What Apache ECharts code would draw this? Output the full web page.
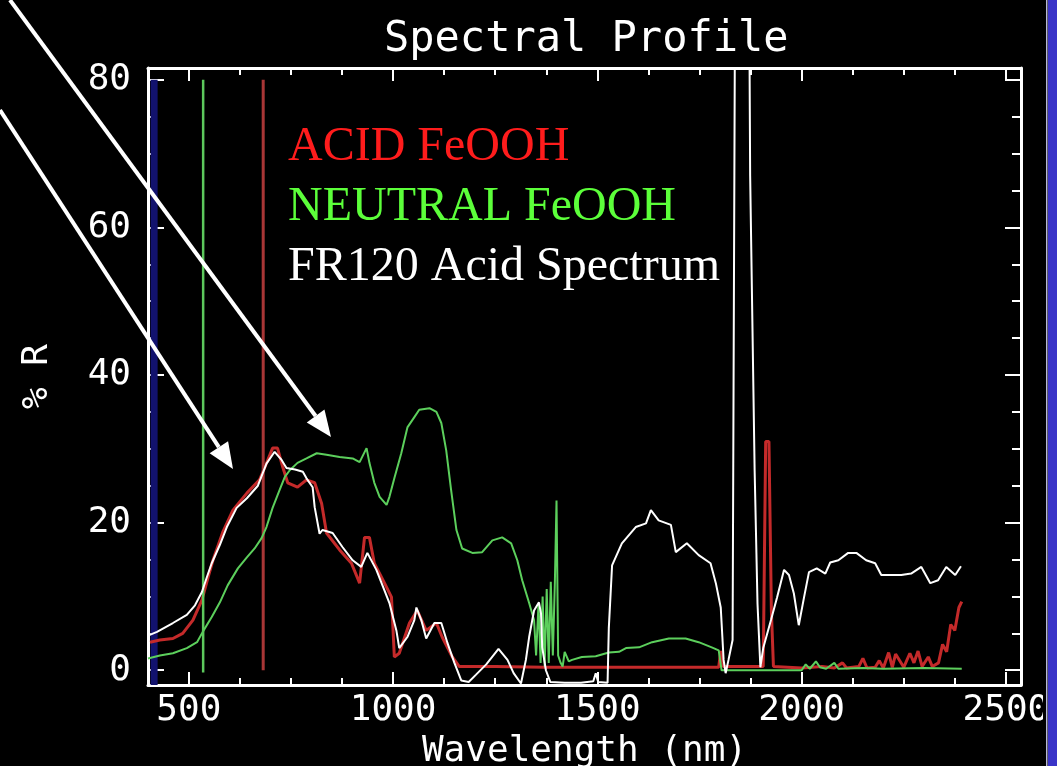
<!DOCTYPE html>
<html>
<head>
<meta charset="utf-8">
<title>Spectral Profile</title>
<script src="https://cdn.jsdelivr.net/npm/echarts@6/dist/echarts.min.js"></script>
<style>
  html, body { margin: 0; padding: 0; background: #000; }
  #chart { width: 1057px; height: 766px; }
</style>
</head>
<body>
<div id="chart"></div>
<script>
// axis ranges and ticks
const xMin = 400;
const xMax = 2537;
const yMin = -2;
const yMax = 81.6;
const xMajor = [500, 1000, 1500, 2000, 2500];
const xMinor = [625, 750, 875, 1125, 1250, 1375, 1625, 1750, 1875, 2125, 2250, 2375];
const yMajor = [0, 20, 40, 60, 80];
const yMinor = [5, 10, 15, 25, 30, 35, 45, 50, 55, 65, 70, 75];

// [wavelength nm, %R]
const acid = [
  [405, 3.8], [429, 4.1], [461, 4.3], [485, 5.0], [510, 6.8], [532, 9.5], [547, 12.6], [559, 14.9],
  [583, 18.7], [608, 21.7], [642, 24.0], [673, 25.8], [686, 27.5], [705, 30.1], [717, 30.1], [730, 27.5],
  [742, 25.4], [766, 24.8], [788, 25.8], [808, 25.4], [825, 22.6], [837, 18.6], [869, 16.3], [898, 14.5],
  [918, 11.8], [930, 18.0], [942, 18.0], [954, 14.5], [979, 11.8], [996, 9.9], [1003, 1.8], [1015, 2.3],
  [1040, 6.4], [1059, 8.1], [1081, 5.4], [1106, 6.4], [1120, 4.5], [1145, 1.8], [1162, 0.5], [1250, 0.5],
  [1370, 0.4], [1500, 0.4], [1650, 0.4], [1797, 0.4], [1802, 2.6], [1808, 0.5], [1906, 0.5], [1912, 31],
  [1920, 31], [1926, 8], [1931, 0.5], [2000, 0.3], [2050, 0.5], [2080, 0.3], [2100, 1.0], [2110, 0.3],
  [2140, 0.5], [2150, 1.6], [2160, 0.3], [2180, 0.4], [2190, 1.3], [2200, 0.3], [2213, 2.4], [2222, 0.4],
  [2230, 2.2], [2250, 0.4], [2265, 2.3], [2275, 1.0], [2285, 2.6], [2295, 0.5], [2310, 1.8], [2320, 0.5],
  [2335, 1.0], [2345, 3.5], [2355, 2.5], [2365, 6.2], [2375, 5.4], [2385, 8.5], [2392, 9.3]
];

const neutral = [
  [400, 1.6], [429, 2.0], [461, 2.3], [495, 3.0], [520, 3.8], [534, 5.2], [556, 7.2], [576, 9.2],
  [595, 11.5], [620, 13.8], [642, 15.3], [661, 16.5], [678, 17.9], [690, 19.4], [705, 22], [722, 24.4],
  [735, 26.2], [747, 27.1], [766, 28.1], [788, 28.7], [813, 29.4], [837, 29.2], [869, 28.9], [901, 28.7],
  [918, 28.2], [935, 30.1], [942, 28.1], [954, 25.4], [967, 23.5], [984, 22.4], [991, 23.5], [1003, 26.0],
  [1020, 29.4], [1035, 32.9], [1052, 34.3], [1064, 35.3], [1089, 35.5], [1106, 35.0], [1118, 33.5], [1130, 29.8],
  [1142, 24.4], [1155, 19.0], [1169, 16.5], [1194, 15.9], [1218, 16.0], [1243, 17.6], [1267, 18.0], [1289, 17.2],
  [1304, 14.9], [1316, 12.2], [1333, 9.1], [1345, 6.8], [1350, 2], [1356, 9], [1361, 1], [1366, 10],
  [1371, 0.5], [1376, 11], [1381, 1], [1386, 12], [1391, 2], [1396, 12], [1400, 23], [1404, 2],
  [1410, 1], [1415, 0.5], [1420, 2.5], [1430, 1.2], [1438, 1.4], [1462, 1.8], [1496, 1.9], [1528, 2.4],
  [1553, 2.5], [1570, 3.0], [1602, 3.1], [1634, 3.8], [1675, 4.3], [1716, 4.3], [1748, 3.8], [1780, 3.1],
  [1797, 2.7], [1804, 0], [2000, 0], [2010, 0.8], [2020, 0.2], [2035, 1.2], [2045, 0.4], [2060, 0.2],
  [2080, 1.0], [2090, 0.2], [2150, 0.3], [2200, 0.2], [2300, 0.3], [2392, 0.2]
];

const fr120 = [
  [400, 4.7], [422, 5.2], [461, 6.4], [495, 7.5], [515, 8.8], [532, 10.6], [544, 12.6], [556, 14.5],
  [576, 17], [593, 19.4], [617, 22], [642, 23.3], [669, 25], [690, 28], [710, 29.6], [727, 28.5],
  [739, 27.4], [760, 27.2], [779, 26.9], [788, 26], [803, 24.8], [808, 22.1], [820, 18.5], [827, 19],
  [852, 18.6], [876, 16.7], [901, 14.9], [922, 14], [937, 15.9], [959, 13.6], [979, 10.8], [991, 9.1],
  [1008, 5.4], [1015, 3.0], [1035, 4.5], [1052, 6.8], [1057, 8.5], [1069, 6.8], [1081, 4.3], [1101, 6.4],
  [1118, 6.4], [1133, 3.7], [1150, 1.0], [1167, -1.4], [1185, -1.6], [1203, -0.6], [1228, 0.8], [1258, 2.9],
  [1280, 1.4], [1295, -0.4], [1313, -1.8], [1325, 1.4], [1333, 4.5], [1345, 8.1], [1357, 9.2], [1362, 7.7],
  [1365, 3.1], [1374, 0], [1385, -1.6], [1420, -1.7], [1460, -1.7], [1490, -1.5], [1496, -0.4], [1502, -1.6],
  [1525, -1.7], [1528, 5.7], [1536, 14.2], [1560, 17.2], [1594, 19.4], [1619, 19.9], [1631, 21.7], [1650, 20.3],
  [1680, 19.7], [1692, 16], [1719, 17.2], [1748, 15.6], [1777, 14.5], [1790, 11.8], [1802, 8.5], [1806, 4.5],
  [1809, 1.4], [1814, -0.4], [1821, 1.4], [1831, 4.1], [1839, 120], [1869, 120], [1874, 67], [1885, 27],
  [1892, 9], [1899, 0.4], [1906, 3], [1925, 6.8], [1940, 9.9], [1957, 13.6], [1969, 12.9], [1981, 10.4],
  [1993, 6.1], [2006, 9.9], [2018, 13.3], [2037, 13.8], [2058, 13.1], [2070, 14.6], [2090, 14.9], [2114, 15.9],
  [2134, 15.9], [2158, 14.9], [2180, 14.5], [2195, 12.9], [2219, 12.9], [2244, 12.9], [2268, 13.1], [2293, 14.0],
  [2315, 11.8], [2334, 12.2], [2354, 14.0], [2376, 12.9], [2390, 14.1]
];

// vertical marker lines
const blueBand = [[415, -2], [415, 80]];
const greenMark = [[535, -0.3], [535, 80]];
const redMark = [[682, 0], [682, 80]];

const white = '#ffffff';
const monoFont = 'DejaVu Sans Mono';

function xAxisFor(position, ticks, tickLen, showLine, showLabels) {
  return {
    type: 'value',
    position: position,
    min: xMin,
    max: xMax,
    name: showLabels ? 'Wavelength (nm)' : '',
    nameLocation: 'middle',
    nameGap: 38,
    nameTextStyle: { color: white, fontFamily: monoFont, fontSize: 36 },
    axisLine: { show: showLine, onZero: false, lineStyle: { color: white, width: 3 } },
    axisTick: { show: true, inside: true, length: tickLen, customValues: ticks, lineStyle: { color: white, width: 2 } },
    axisLabel: {
      show: showLabels, customValues: ticks, color: white, fontFamily: monoFont, fontSize: 36, margin: 8,
      formatter: (v) => String(v)
    },
    splitLine: { show: false }
  };
}

function yAxisFor(position, ticks, tickLen, showLine, showLabels) {
  return {
    type: 'value',
    position: position,
    min: yMin,
    max: yMax,
    name: showLabels ? '% R' : '',
    nameLocation: 'middle',
    nameGap: 92,
    nameTextStyle: { color: white, fontFamily: monoFont, fontSize: 36 },
    axisLine: { show: showLine, onZero: false, lineStyle: { color: white, width: 3 } },
    axisTick: { show: true, inside: true, length: tickLen, customValues: ticks, lineStyle: { color: white, width: 2 } },
    axisLabel: {
      show: showLabels, customValues: ticks, color: white, fontFamily: monoFont, fontSize: 36, margin: 17,
      formatter: (v) => String(v)
    },
    splitLine: { show: false }
  };
}

// white annotation arrow in pixel space
function arrow(x1, y1, x2, y2) {
  const dx = x2 - x1, dy = y2 - y1, d = Math.hypot(dx, dy);
  const ux = dx / d, uy = dy / d;
  const hl = 26, hw = 11;
  const bx = x2 - ux * hl, by = y2 - uy * hl;
  return [
    { type: 'polyline', z: 100, shape: { points: [[x1, y1], [bx, by]] }, style: { stroke: white, lineWidth: 4 } },
    { type: 'polygon', z: 100, shape: { points: [[x2, y2], [bx - uy * hw, by + ux * hw], [bx + uy * hw, by - ux * hw]] }, style: { fill: white } }
  ];
}

const chart = echarts.init(document.getElementById('chart'));

const option = {
  backgroundColor: '#000000',
  animation: false,
  title: {
    text: 'Spectral Profile',
    left: 379,
    top: 14,
    textStyle: { color: white, fontFamily: monoFont, fontSize: 42, fontWeight: 'normal' }
  },
  legend: {
    orient: 'vertical',
    left: 278,
    top: 118,
    icon: 'none',
    itemWidth: 0,
    itemGap: 12,
    selectedMode: false,
    textStyle: { fontFamily: 'Liberation Serif', fontSize: 48, lineHeight: 48 },
    data: [
      { name: 'ACID FeOOH', textStyle: { color: '#ff1c1c' } },
      { name: 'NEUTRAL FeOOH', textStyle: { color: '#5cff3a' } },
      { name: 'FR120 Acid Spectrum', textStyle: { color: white } }
    ]
  },
  grid: { left: 148, right: 36, top: 68, bottom: 81, containLabel: false, outerBoundsMode: 'none' },
  xAxis: [
    xAxisFor('bottom', xMajor, 13, true, true),
    xAxisFor('bottom', xMinor, 7, false, false),
    xAxisFor('top', xMajor, 13, true, false),
    xAxisFor('top', xMinor, 7, false, false)
  ],
  yAxis: [
    yAxisFor('left', yMajor, 16, true, true),
    yAxisFor('left', yMinor, 9, false, false),
    yAxisFor('right', yMajor, 16, true, false),
    yAxisFor('right', yMinor, 9, false, false)
  ],
  series: [
    { name: 'band', type: 'line', data: blueBand, symbol: 'none', silent: true, z: 1,
      lineStyle: { color: '#12126e', width: 7 } },
    { name: 'ACID FeOOH', type: 'line', data: acid, symbol: 'none', z: 2,
      itemStyle: { color: '#c42a2a' }, lineStyle: { color: '#c42a2a', width: 3 } },
    { name: 'acid mark', type: 'line', data: redMark, symbol: 'none', silent: true, z: 2,
      lineStyle: { color: '#a83636', width: 3 } },
    { name: 'NEUTRAL FeOOH', type: 'line', data: neutral, symbol: 'none', z: 3,
      itemStyle: { color: '#5ccf5c' }, lineStyle: { color: '#5ccf5c', width: 2 } },
    { name: 'neutral mark', type: 'line', data: greenMark, symbol: 'none', silent: true, z: 3,
      lineStyle: { color: '#5cc85c', width: 2.5 } },
    { name: 'FR120 Acid Spectrum', type: 'line', data: fr120, symbol: 'none', z: 4,
      itemStyle: { color: white }, lineStyle: { color: white, width: 2 } }
  ],
  graphic: [
    ...arrow(10, 0, 331, 437),
    ...arrow(0, 110, 233, 469),
    { type: 'rect', z: 100, shape: { x: 1043, y: 0, width: 5, height: 766 }, style: { fill: '#000000' } },
    { type: 'rect', z: 100, shape: { x: 1046, y: 0, width: 1.5, height: 766 }, style: { fill: '#b8b8d8' } },
    { type: 'rect', z: 100, shape: { x: 1048, y: 0, width: 9, height: 766 }, style: { fill: '#3a34c8' } }
  ]
};

chart.setOption(option);
</script>
</body>
</html>
